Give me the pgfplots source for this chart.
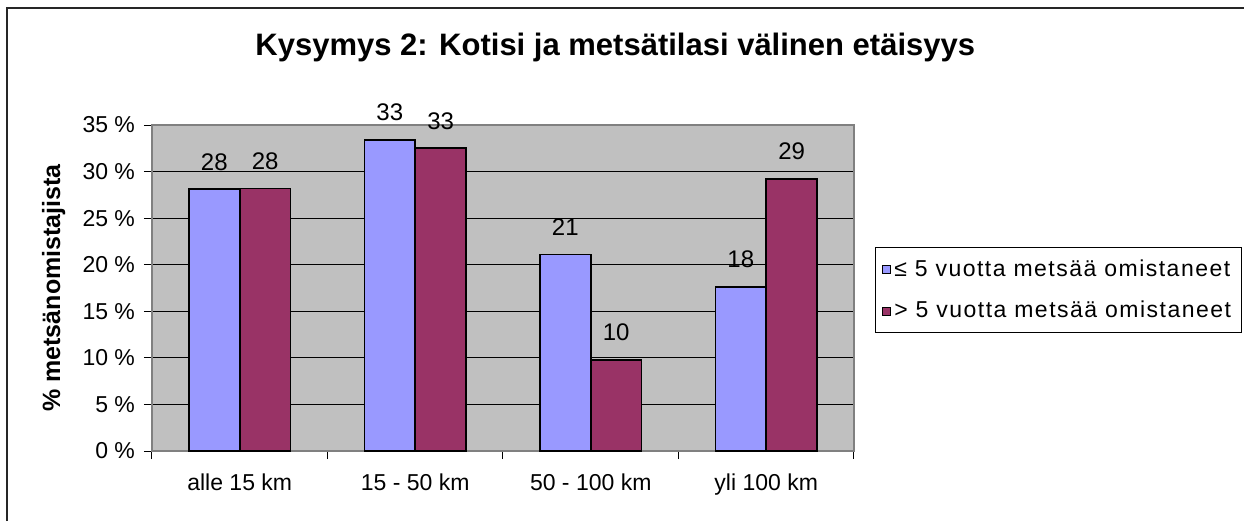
\documentclass[border=0pt]{standalone}
\usepackage{pgfplots}
\pgfplotsset{compat=1.18}
\usepackage{fontspec}
\setmainfont{Liberation Sans}
\newfontfamily\legfont[LetterSpace=6.5]{Liberation Sans}
\definecolor{bblue}{HTML}{9999FF}
\definecolor{bred}{HTML}{993366}
\definecolor{pbg}{HTML}{C0C0C0}
\begin{document}
\begin{tikzpicture}
\path[use as bounding box] (0,0) rectangle (622pt,260.5pt);
\draw[line width=1pt, black!85] (3.5pt,0) -- (3.5pt,256.5pt) -- (622pt,256.5pt);
\begin{axis}[
  at={(76pt,35pt)}, anchor=south west,
  scale only axis, width=351pt, height=163pt,
  ybar=0pt, bar width=0.29,
  xmin=-0.5, xmax=3.5, ymin=0, ymax=35,
  xtick pos=bottom, ytick pos=left,
  xtick={0,1,2,3},
  xticklabels={alle 15 km, 15 - 50 km, 50 - 100 km, yli 100 km},
  major x tick style={draw=none},
  minor xtick={-0.5,0.5,1.5,2.5,3.5},
  minor x tick style={black, line width=0.5pt},
  ytick={0,5,10,15,20,25,30,35},
  yticklabels={0 \%,5 \%,10 \%,15 \%,20 \%,25 \%,30 \%,35 \%},
  tick align=outside, major tick length=4pt, minor tick length=4pt,
  ymajorgrids, grid style={black, line width=0.5pt},
  axis background/.style={fill=pbg},
  axis line style={gray, line width=0.8pt},
  y tick style={black, line width=0.5pt},
  tick label style={font=\fontsize{11.5}{13}\selectfont},
  xticklabel style={yshift=-4pt},
  yticklabel style={xshift=-1pt},
  ylabel={\bfseries \% metsänomistajista},
  ylabel style={at={(axis description cs:-0.14,0.5)}, anchor=center, font=\fontsize{12.5}{14}\selectfont},
  title={\bfseries Kysymys 2: Kotisi ja metsätilasi välinen etäisyys},
  title style={at={(axis description cs:0.66,1.20)}, anchor=center, font=\fontsize{15.5}{18}\selectfont},
  point meta=explicit symbolic,
  nodes near coords,
  every node near coord/.append style={anchor=center, yshift=13.75pt, font=\fontsize{12}{14}\selectfont, black},
  legend style={at={(axis description cs:1.03,0.626)}, anchor=north west, draw=black, line width=0.5pt,
    font=\legfont\fontsize{11.5}{13}\selectfont, row sep=7pt, inner xsep=3pt, inner ysep=4pt, /tikz/every even column/.append style={column sep=2pt}},
  legend cell align=left,
  legend image code/.code={\draw[#1, draw=black, line width=0.4pt] (0pt,-2pt) rectangle (4pt,2pt);},
]
\addplot[fill=bblue, draw=black, line width=0.8pt] coordinates {(0,28.1) [28] (1,33.4) [33] (2,21.1) [21] (3,17.6) [18]};
\addplot[fill=bred, draw=black, line width=0.8pt] coordinates {(0,28.2) [28] (1,32.5) [33] (2,9.8) [10] (3,29.2) [29]};
\legend{≤ 5 vuotta metsää omistaneet, > 5 vuotta metsää omistaneet}
\end{axis}
\end{tikzpicture}
\end{document}
